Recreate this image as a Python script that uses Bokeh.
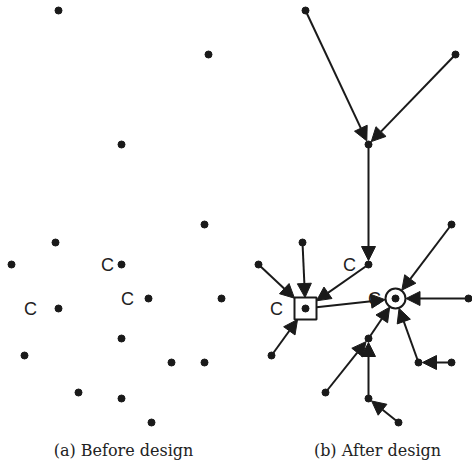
import numpy as np
from bokeh.plotting import figure
from bokeh.layouts import row
from bokeh.models import Range1d, Arrow, NormalHead, ColumnDataSource
from bokeh.embed import file_html
from bokeh.resources import INLINE
from bokeh.core.properties import value

# ---- data (node positions) ----
node_x = [58, 208, 121, 204, 55, 11, 121, 148, 221, 58, 121, 24, 171, 204, 78, 121, 151]
node_y = [10, 54, 144, 224, 242, 264, 264, 298, 298, 308, 338, 355, 362, 362, 392, 398, 422]
label_nodes = [6, 7, 9]
label_text = ["C", "C", "C"]
label_dx_a = [-14, -21, -28]
label_dx_b = [-19, -21, -29]
edge_src = [0, 1, 2, 4, 5, 6, 11, 9, 3, 8, 10, 12, 13, 14, 15, 16]
edge_dst = [2, 2, 6, 9, 9, 9, 9, 7, 7, 7, 7, 7, 12, 10, 10, 15]
circle_node = 7
square_node = 9
captions = ["(a) Before design", "(b) After design"]
caption_x = [123, 130]
caption_y = 450

W, H = 236, 460
Y_RANGE = (460, 0)


def base_fig(x0, x1):
    p = figure(width=W, height=H, output_backend="svg", toolbar_location=None,
               x_range=Range1d(x0, x1), y_range=Range1d(*Y_RANGE),
               min_border=0, outline_line_color=None, background_fill_color="white",
               border_fill_color="white")
    p.axis.visible = False
    p.grid.visible = False
    return p


def add_labels(p, dxs):
    src = ColumnDataSource(dict(x=[node_x[i] for i in label_nodes],
                                y=[node_y[i] for i in label_nodes],
                                t=label_text, dx=dxs))
    p.text(x="x", y="y", text="t", x_offset="dx", source=src,
           text_font=value("Liberation Sans"), text_font_size="18px",
           text_align="center", text_baseline="middle", text_color="#222222")


def add_caption(p, xc, txt):
    p.text(x=[xc], y=[caption_y], text=[txt], text_font=value("DejaVu Serif"),
           text_font_size="16px", text_align="center", text_baseline="middle",
           text_color="#222222")


# ---- panel (a) ----
pa = base_fig(0, 236)
pa.scatter(node_x, node_y, size=7, color="#1a1a1a")
add_labels(pa, label_dx_a)
add_caption(pa, caption_x[0], captions[0])

# ---- panel (b) ----
pb = base_fig(-11, 225)


def node_radius(i, ux, uy):
    if i == circle_node:
        return 10.5
    if i == square_node:
        return 11.0 / max(abs(ux), abs(uy))
    return 0.0


xs, ys, xe, ye = [], [], [], []
for s, d in zip(edge_src, edge_dst):
    dx = node_x[d] - node_x[s]
    dy = node_y[d] - node_y[s]
    L = np.hypot(dx, dy)
    ux, uy = dx / L, dy / L
    rs = node_radius(s, ux, uy)
    rd = node_radius(d, ux, uy)
    if rd == 0:
        rd = 4.0
    xs.append(node_x[s] + ux * rs)
    ys.append(node_y[s] + uy * rs)
    xe.append(node_x[d] - ux * rd)
    ye.append(node_y[d] - uy * rd)

asrc = ColumnDataSource(dict(xs=xs, ys=ys, xe=xe, ye=ye))
pb.add_layout(Arrow(x_start="xs", y_start="ys", x_end="xe", y_end="ye", source=asrc,
                    line_width=2, line_color="#1a1a1a",
                    end=NormalHead(size=14, fill_color="#1a1a1a", line_color="#1a1a1a",
                                   line_width=1)))

pb.scatter(node_x, node_y, size=7, color="#1a1a1a")
pb.scatter([node_x[circle_node]], [node_y[circle_node]], marker="circle", size=20,
           fill_color=None, line_color="#1a1a1a", line_width=2)
pb.scatter([node_x[square_node]], [node_y[square_node]], marker="square", size=22,
           fill_color=None, line_color="#1a1a1a", line_width=2)
add_labels(pb, label_dx_b)
add_caption(pb, caption_x[1], captions[1])

layout = row(pa, pb)
open("out.html", "w").write(file_html(layout, INLINE))
